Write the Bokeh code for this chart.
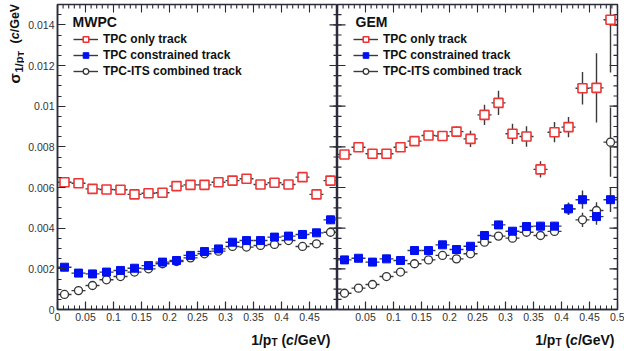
import math
from bokeh.plotting import figure
from bokeh.models import Range1d, FixedTicker, LinearAxis, Label, Legend, LegendItem, ColumnDataSource
from bokeh.layouts import row, column
from bokeh.embed import file_html
from bokeh.resources import INLINE

# ---------------- data ----------------
bin_centers = [0.0125, 0.0375, 0.0625, 0.0875, 0.1125, 0.1375, 0.1625, 0.1875, 0.2125, 0.2375,
               0.2625, 0.2875, 0.3125, 0.3375, 0.3625, 0.3875, 0.4125, 0.4375, 0.4625, 0.4875]
bin_half_width = [0.0125] * 20

mwpc_tpc_only = [0.00626, 0.00621, 0.00593, 0.00590, 0.00589, 0.00566, 0.00572, 0.00574, 0.00607, 0.00613,
                 0.00613, 0.00626, 0.00634, 0.00643, 0.00615, 0.00623, 0.00615, 0.00651, 0.00566, 0.00634]
mwpc_tpc_only_err = [0.0001] * 17 + [0.00012, 0.00015, 0.00025]
mwpc_constrained = [0.00208, 0.00179, 0.00175, 0.00184, 0.00192, 0.00203, 0.00216, 0.00233, 0.00241, 0.00266,
                    0.00285, 0.00298, 0.00331, 0.00339, 0.00339, 0.00356, 0.00361, 0.00369, 0.00377, 0.00441]
mwpc_constrained_err = [0.00006] * 18 + [0.0001, 0.0002]
mwpc_combined = [0.00074, 0.00093, 0.00118, 0.00146, 0.00162, 0.00184, 0.00200, 0.00225, 0.00236, 0.00254,
                 0.00274, 0.00287, 0.00310, 0.00307, 0.00315, 0.00320, 0.00339, 0.00310, 0.00323, 0.00380]
mwpc_combined_err = [0.00006] * 18 + [0.0001, 0.00015]

gem_tpc_only = [0.00762, 0.00798, 0.00766, 0.00766, 0.00798, 0.00828, 0.00856, 0.00853, 0.00875, 0.00839,
                0.00957, 0.01016, 0.00864, 0.00851, 0.00689, 0.00872, 0.00897, 0.01088, 0.01090, 0.01425]
gem_tpc_only_err = [0.00015, 0.00015, 0.00015, 0.00015, 0.00018, 0.0002, 0.0002, 0.0002, 0.00025, 0.0004,
                    0.0005, 0.0006, 0.0005, 0.0005, 0.0004, 0.0005, 0.0005, 0.0008, 0.0017, 0.0026]
gem_constrained = [0.00244, 0.00252, 0.00233, 0.00249, 0.00241, 0.00290, 0.00290, 0.00318, 0.00295, 0.00311,
                   0.00364, 0.00416, 0.00385, 0.00408, 0.00410, 0.00410, 0.00495, 0.00540, 0.00457, 0.00540]
gem_constrained_err = [0.0001] * 10 + [0.00015, 0.0002, 0.0002, 0.0002, 0.0002, 0.0002, 0.0003, 0.00045, 0.0004, 0.0006]
gem_combined = [0.00080, 0.00105, 0.00123, 0.00162, 0.00184, 0.00225, 0.00244, 0.00266, 0.00249, 0.00274,
                0.00331, 0.00361, 0.00351, 0.00380, 0.00364, 0.00384, 0.00495, 0.00441, 0.00487, 0.00823]
gem_combined_err = [0.0001] * 10 + [0.00012, 0.00015, 0.00015, 0.00015, 0.00015, 0.00015, 0.0003, 0.00035, 0.0004, 0.0017]

series_names = ["TPC only track", "TPC constrained track", "TPC-ITS combined track"]
panel_titles = ["MWPC", "GEM"]

x_ticks = [0.0, 0.05, 0.1, 0.15, 0.2, 0.25, 0.3, 0.35, 0.4, 0.45, 0.5]
x_tick_labels = ["0", "0.05", "0.1", "0.15", "0.2", "0.25", "0.3", "0.35", "0.4", "0.45", "0.5"]
x_minor = [i / 100 for i in range(0, 51)]
y_ticks = [0.0, 0.002, 0.004, 0.006, 0.008, 0.01, 0.012, 0.014]
y_tick_labels = ["0", "0.002", "0.004", "0.006", "0.008", "0.01", "0.012", "0.014"]
y_minor = [i / 2000 for i in range(0, 31)]

X_MIN, X_MAX = 0.0, 0.5
Y_MIN, Y_MAX = 0.0, 0.015

FONT = "Liberation Sans"
AX = "#2a2a3a"
RED = "#ee3535"
BLUE = "#0010f0"
DARK = "#333333"
ERR = "#3a3a3a"
TXT = "#111111"

FRAME_W = 280
FRAME_H = 305
TOP = 4
PANEL_H = 327
YT_W = 24
XT_H = 23


def style_axis(ax):
    ax.axis_line_color = AX
    ax.axis_line_width = 1.5
    ax.major_tick_line_color = AX
    ax.minor_tick_line_color = AX
    ax.major_tick_line_width = 1.2
    ax.minor_tick_line_width = 1.0
    ax.major_tick_in = 8
    ax.major_tick_out = 0
    ax.minor_tick_in = 4
    ax.minor_tick_out = 0
    ax.major_label_text_font = FONT
    ax.major_label_text_color = DARK
    ax.major_label_text_font_size = "10.5px"


def inner_ticks(p, side):
    """Inward tick marks on a frame edge without labels (clipped half of a dash marker)."""
    kw = dict(marker="dash", line_color=AX, line_width=1.1)
    if side == "top":
        p.scatter(x=x_ticks, y=[Y_MAX] * len(x_ticks), size=16, angle=math.pi / 2, **kw)
        p.scatter(x=x_minor, y=[Y_MAX] * len(x_minor), size=8, angle=math.pi / 2, **kw)
    else:
        xe = X_MAX if side == "right" else X_MIN
        p.scatter(x=[xe] * len(y_ticks), y=y_ticks, size=16, **kw)
        p.scatter(x=[xe] * len(y_minor), y=y_minor, size=8, **kw)


def make_panel(idx, vals, errs, border_left, border_right):
    p = figure(width=border_left + FRAME_W + border_right, height=PANEL_H,
               x_range=Range1d(X_MIN, X_MAX), y_range=Range1d(Y_MIN, Y_MAX),
               x_axis_type=None, y_axis_type=None,
               output_backend="svg", toolbar_location=None,
               min_border_left=border_left, min_border_right=border_right,
               min_border_top=TOP, min_border_bottom=PANEL_H - FRAME_H - TOP)
    p.outline_line_color = AX
    p.outline_line_width = 1.5
    p.background_fill_color = "white"
    p.border_fill_color = "white"

    if idx == 0:
        bt = x_ticks[:-1]
        bl = x_tick_labels[:-1]
    else:
        bt = x_ticks[1:]
        bl = x_tick_labels[1:]
    bottom = LinearAxis(ticker=FixedTicker(ticks=bt, minor_ticks=x_minor),
                        major_label_overrides={t: l for t, l in zip(bt, bl)})
    style_axis(bottom)
    bottom.major_label_standoff = 3
    p.add_layout(bottom, "below")

    if idx == 0:
        left = LinearAxis(ticker=FixedTicker(ticks=y_ticks, minor_ticks=y_minor),
                          major_label_overrides={t: l for t, l in zip(y_ticks, y_tick_labels)})
        style_axis(left)
        left.major_label_standoff = 3
        p.add_layout(left, "left")
    else:
        inner_ticks(p, "left")
    inner_ticks(p, "top")
    inner_ticks(p, "right")

    styles = [
        dict(marker="square", size=9, line_color=RED, fill_color="white", line_width=1.6),
        dict(marker="square", size=8, line_color=BLUE, fill_color=BLUE, line_width=1.0),
        dict(marker="circle", size=8, line_color=DARK, fill_color="white", line_width=1.3),
    ]
    sources = []
    for v, e in zip(vals, errs):
        sources.append(ColumnDataSource(dict(
            x=bin_centers, y=v,
            x0=[c - w for c, w in zip(bin_centers, bin_half_width)],
            x1=[c + w for c, w in zip(bin_centers, bin_half_width)],
            y0=[a - b for a, b in zip(v, e)],
            y1=[a + b for a, b in zip(v, e)])))

    hbars = []
    for src in sources:
        hbars.append(p.segment(x0="x0", y0="y", x1="x1", y1="y", source=src, line_color=ERR, line_width=1.4))
        p.segment(x0="x", y0="y0", x1="x", y1="y1", source=src, line_color=ERR, line_width=1.4)
    mk = {}
    for k in [2, 1, 0]:
        mk[k] = p.scatter(x="x", y="y", source=sources[k], **styles[k])

    legend = Legend(items=[LegendItem(label=series_names[k], renderers=[hbars[k], mk[k]]) for k in range(3)],
                    location=(16, 231), padding=0, margin=0, spacing=2,
                    glyph_width=25, glyph_height=14, label_height=14, label_standoff=5,
                    label_text_font=FONT, label_text_font_style="bold", label_text_font_size="12px",
                    label_text_color=TXT,
                    border_line_alpha=0, background_fill_alpha=0)
    p.add_layout(legend, "center")

    p.add_layout(Label(x=15 if idx == 0 else 18, y=280, x_units="screen", y_units="screen",
                       text=panel_titles[idx], text_font=FONT, text_font_style="bold",
                       text_font_size="14px", text_color=TXT))
    return p


def blank_fig(w, h):
    f = figure(width=w, height=h, x_range=Range1d(0, 1), y_range=Range1d(0, 1),
               x_axis_type=None, y_axis_type=None, output_backend="svg", toolbar_location=None,
               min_border=0, min_border_left=0, min_border_right=0, min_border_top=0, min_border_bottom=0)
    f.outline_line_color = None
    f.background_fill_color = "white"
    f.border_fill_color = "white"
    return f


p1 = make_panel(0, [mwpc_tpc_only, mwpc_constrained, mwpc_combined],
                [mwpc_tpc_only_err, mwpc_constrained_err, mwpc_combined_err], 57 - YT_W, 0)
p2 = make_panel(1, [gem_tpc_only, gem_constrained, gem_combined],
                [gem_tpc_only_err, gem_constrained_err, gem_combined_err], 0, 7)

# y axis title: sigma_{1/p_T} (c/GeV), rotated
yfig = blank_fig(YT_W, PANEL_H)
rc = dict(x_units="screen", y_units="screen", text_font=FONT, text_color=TXT,
          text_align="left", text_baseline="middle", angle=math.pi / 2)
yfig.add_layout(Label(x=14, y=PANEL_H - 101, text="σ", text_font_style="bold", text_font_size="15px", **rc))
yfig.add_layout(Label(x=18, y=PANEL_H - 90, text="1/p", text_font_style="bold", text_font_size="11px", **rc))
yfig.add_layout(Label(x=20, y=PANEL_H - 74, text="T", text_font_style="bold", text_font_size="9px", **rc))
yfig.add_layout(Label(x=14, y=PANEL_H - 61, text="(", text_font_style="bold", text_font_size="12.5px", **rc))
yfig.add_layout(Label(x=14, y=PANEL_H - 56.8, text="c", text_font_style="bold italic", text_font_size="12.5px", **rc))
yfig.add_layout(Label(x=14, y=PANEL_H - 49.8, text="/GeV)", text_font_style="bold", text_font_size="12.5px", **rc))

# x axis titles: 1/p_T (c/GeV), right aligned under each panel
xfig = blank_fig(624, XT_H)
common = dict(x_units="screen", y_units="screen", text_font=FONT, text_color=TXT,
              text_align="right", text_baseline="alphabetic")
for E in (330, 614):
    xfig.add_layout(Label(x=E, y=11, text="/GeV)", text_font_style="bold", text_font_size="14px", **common))
    xfig.add_layout(Label(x=E - 36.6, y=11, text="c", text_font_style="bold italic", text_font_size="14px", **common))
    xfig.add_layout(Label(x=E - 44.4, y=11, text="(", text_font_style="bold", text_font_size="14px", **common))
    xfig.add_layout(Label(x=E - 53.0, y=8, text="T", text_font_style="bold", text_font_size="10px", **common))
    xfig.add_layout(Label(x=E - 59.1, y=11, text="1/p", text_font_style="bold", text_font_size="14px", **common))

layout = column(row(yfig, p1, p2, spacing=0), xfig, spacing=0)
open("out.html", "w").write(file_html(layout, INLINE))
